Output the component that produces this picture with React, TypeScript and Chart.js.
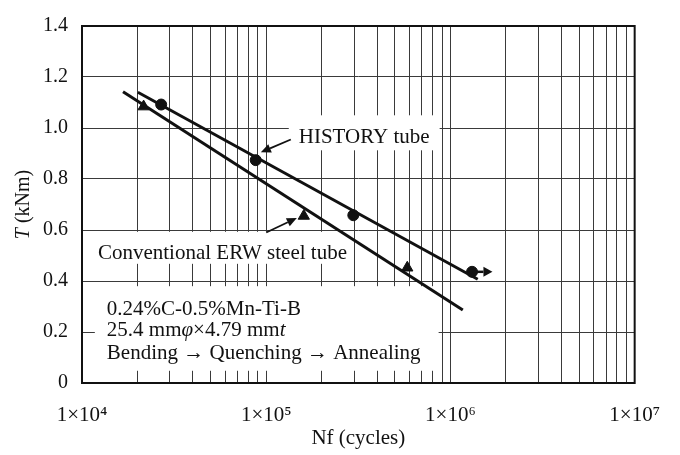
import React, { useEffect, useRef } from 'react';
import { Chart, registerables } from 'chart.js';

Chart.register(...registerables);

// ---- data ----
const historyCycles = [26900, 87700, 297000, 1310000];
const historyTorque = [1.092, 0.874, 0.658, 0.436];
const conventionalCycles = [21600, 160000, 583000];
const conventionalTorque = [1.084, 0.655, 0.452];
const historyFitCycles = [20100, 1406000];
const historyFitTorque = [1.14, 0.407];
const conventionalFitCycles = [16700, 1167000];
const conventionalFitTorque = [1.142, 0.286];
const runoutTipCycles = [1690000];
const yTickValues = [0, 0.2, 0.4, 0.6, 0.8, 1.0, 1.2, 1.4];
const xDecades = [4, 5, 6, 7];
const xTickLabels = ['1×10⁴', '1×10⁵', '1×10⁶', '1×10⁷'];

const FONT = "'Liberation Serif', 'Times New Roman', serif";

type Seg = { t: string; italic?: boolean };

const labelHistory: Seg[] = [{ t: 'HISTORY tube' }];
const labelConventional: Seg[] = [{ t: 'Conventional ERW steel tube' }];
const blockLines: Seg[][] = [
  [{ t: '0.24%C-0.5%Mn-Ti-B' }],
  [{ t: '25.4 mm' }, { t: 'φ', italic: true }, { t: '×4.79 mm' }, { t: 't', italic: true }],
  [{ t: 'Bending → Quenching → Annealing' }],
];

// annotation anchors in data coordinates (cycles, torque)
const historyLabelAt = { x: 150200, y: 0.94 };
const conventionalLabelAt = { x: 12200, y: 0.487 };
const blockAt = { x: 13640, y: [0.266, 0.183, 0.095] };
const historyPointer = { from: { x: 136000, y: 0.955 }, to: { x: 93500, y: 0.905 } };
const conventionalPointer = { from: { x: 100000, y: 0.59 }, to: { x: 146600, y: 0.647 } };

function fontStr(size: number, italic?: boolean) {
  return `${italic ? 'italic ' : ''}${size}px ${FONT}`;
}

function segWidth(ctx: CanvasRenderingContext2D, segs: Seg[], size: number) {
  let w = 0;
  for (const s of segs) {
    ctx.font = fontStr(size, s.italic);
    w += ctx.measureText(s.t).width;
  }
  return w;
}

function drawSegs(ctx: CanvasRenderingContext2D, segs: Seg[], x: number, y: number, size: number) {
  let cx = x;
  ctx.textBaseline = 'alphabetic';
  ctx.textAlign = 'left';
  ctx.fillStyle = '#111';
  for (const s of segs) {
    ctx.font = fontStr(size, s.italic);
    ctx.fillText(s.t, cx, y);
    cx += ctx.measureText(s.t).width;
  }
}

function drawArrow(ctx: CanvasRenderingContext2D, x1: number, y1: number, x2: number, y2: number, lw: number, head: number, half: number) {
  const a = Math.atan2(y2 - y1, x2 - x1);
  const bx = x2 - Math.cos(a) * head;
  const by = y2 - Math.sin(a) * head;
  ctx.strokeStyle = '#111';
  ctx.fillStyle = '#111';
  ctx.lineWidth = lw;
  ctx.beginPath();
  ctx.moveTo(x1, y1);
  ctx.lineTo(bx, by);
  ctx.stroke();
  ctx.beginPath();
  ctx.moveTo(x2, y2);
  ctx.lineTo(bx + Math.sin(a) * half, by - Math.cos(a) * half);
  ctx.lineTo(bx - Math.sin(a) * half, by + Math.cos(a) * half);
  ctx.closePath();
  ctx.fill();
}

const TEXT_SIZE = 21;

const annotationPlugin = {
  id: 'annotations',
  beforeDatasetsDraw(chart: any) {
    const { ctx, scales } = chart;
    const xs = scales.x;
    const ys = scales.y;
    ctx.save();
    ctx.fillStyle = '#fff';
    // HISTORY box
    let lx = xs.getPixelForValue(historyLabelAt.x);
    let ly = ys.getPixelForValue(historyLabelAt.y);
    let w = segWidth(ctx, labelHistory, TEXT_SIZE);
    ctx.fillRect(lx - 10, ly - 28, w + 20, 35);
    // Conventional box
    lx = xs.getPixelForValue(conventionalLabelAt.x);
    ly = ys.getPixelForValue(conventionalLabelAt.y);
    w = segWidth(ctx, labelConventional, TEXT_SIZE);
    ctx.fillRect(lx - 8, ly - 27, w + 14, 32);
    // block box
    lx = xs.getPixelForValue(blockAt.x);
    const y0 = ys.getPixelForValue(blockAt.y[0]);
    const y2 = ys.getPixelForValue(blockAt.y[blockAt.y.length - 1]);
    let mw = 0;
    blockLines.forEach((l) => (mw = Math.max(mw, segWidth(ctx, l, TEXT_SIZE))));
    ctx.fillRect(lx - 12, y0 - 29, mw + 30, y2 - y0 + 41);
    ctx.restore();
  },
  afterDatasetsDraw(chart: any) {
    const { ctx, scales } = chart;
    const xs = scales.x;
    const ys = scales.y;
    ctx.save();
    drawSegs(ctx, labelHistory, xs.getPixelForValue(historyLabelAt.x), ys.getPixelForValue(historyLabelAt.y), TEXT_SIZE);
    drawSegs(ctx, labelConventional, xs.getPixelForValue(conventionalLabelAt.x), ys.getPixelForValue(conventionalLabelAt.y), TEXT_SIZE);
    blockLines.forEach((l, i) => {
      drawSegs(ctx, l, xs.getPixelForValue(blockAt.x), ys.getPixelForValue(blockAt.y[i]), TEXT_SIZE);
    });
    for (const p of [historyPointer, conventionalPointer]) {
      drawArrow(ctx, xs.getPixelForValue(p.from.x), ys.getPixelForValue(p.from.y), xs.getPixelForValue(p.to.x), ys.getPixelForValue(p.to.y), 1.8, 10, 4.5);
    }
    // run-out arrow on last HISTORY specimen
    const li = historyCycles.length - 1;
    const rx = xs.getPixelForValue(historyCycles[li]);
    const ry = ys.getPixelForValue(historyTorque[li]);
    drawArrow(ctx, rx, ry, xs.getPixelForValue(runoutTipCycles[0]), ry, 2.5, 9, 5);
    ctx.restore();
  },
  afterDraw(chart: any) {
    const { ctx, chartArea } = chart;
    ctx.save();
    ctx.strokeStyle = '#111';
    ctx.lineWidth = 2;
    ctx.strokeRect(chartArea.left, chartArea.top, chartArea.right - chartArea.left, chartArea.bottom - chartArea.top);
    // y-axis title with italic T
    const segs: Seg[] = [{ t: 'T', italic: true }, { t: ' (kNm)' }];
    const size = 20;
    const w = segWidth(ctx, segs, size);
    ctx.translate(29, (chartArea.top + chartArea.bottom) / 2);
    ctx.rotate(-Math.PI / 2);
    drawSegs(ctx, segs, -w / 2, 0, size);
    ctx.restore();
  },
};

export default function App() {
  const ref = useRef<HTMLCanvasElement | null>(null);
  useEffect(() => {
    document.body.style.margin = '0';
    const canvas = ref.current;
    if (!canvas) return;
    const toPts = (xs: number[], ys: number[]) => xs.map((x, i) => ({ x, y: ys[i] }));
    const xTickValues: number[] = [];
    for (let e = xDecades[0]; e < xDecades[xDecades.length - 1]; e++) {
      for (let s = 1; s <= 9; s++) xTickValues.push(s * Math.pow(10, e));
    }
    xTickValues.push(Math.pow(10, xDecades[xDecades.length - 1]));

    const chart = new Chart(canvas, {
      type: 'scatter',
      data: {
        datasets: [
          {
            type: 'line',
            label: 'HISTORY fit',
            data: toPts(historyFitCycles, historyFitTorque),
            borderColor: '#111',
            borderWidth: 3,
            pointRadius: 0,
            fill: false,
          },
          {
            type: 'line',
            label: 'Conventional fit',
            data: toPts(conventionalFitCycles, conventionalFitTorque),
            borderColor: '#111',
            borderWidth: 3,
            pointRadius: 0,
            fill: false,
          },
          {
            label: 'HISTORY tube',
            data: toPts(historyCycles, historyTorque),
            pointStyle: 'circle',
            pointRadius: 5.5,
            backgroundColor: '#111',
            borderColor: '#111',
          },
          {
            label: 'Conventional ERW steel tube',
            data: toPts(conventionalCycles, conventionalTorque),
            pointStyle: 'triangle',
            pointRadius: 6.5,
            backgroundColor: '#111',
            borderColor: '#111',
          },
        ],
      } as any,
      options: {
        animation: false,
        responsive: false,
        devicePixelRatio: 1,
        layout: { padding: { left: 0, right: 42, top: 15, bottom: 0 } },
        plugins: { legend: { display: false }, tooltip: { enabled: false } },
        scales: {
          x: {
            type: 'logarithmic',
            min: 1e4,
            max: 1e7,
            afterBuildTicks: (scale: any) => {
              scale.ticks = xTickValues.map((v) => ({ value: v }));
            },
            afterFit: (scale: any) => {
              scale.height = 72;
            },
            grid: { color: '#3a3a3a', lineWidth: 1, drawTicks: false },
            border: { display: false },
            ticks: {
              autoSkip: false,
              maxRotation: 0,
              padding: 20,
              color: '#111',
              font: { family: FONT, size: 21 },
              callback: (value: any) => {
                const l = Math.log10(Number(value));
                const r = Math.round(l);
                if (Math.abs(l - r) < 1e-9) {
                  const i = xDecades.indexOf(r);
                  return i >= 0 ? xTickLabels[i] : '';
                }
                return '';
              },
            },
            title: {
              display: true,
              text: 'Nf (cycles)',
              color: '#111',
              font: { family: FONT, size: 21 },
              padding: { top: 0, bottom: 4 },
            },
          },
          y: {
            type: 'linear',
            min: yTickValues[0],
            max: yTickValues[yTickValues.length - 1],
            afterBuildTicks: (scale: any) => {
              scale.ticks = yTickValues.map((v) => ({ value: v }));
            },
            afterFit: (scale: any) => {
              scale.width = 82;
            },
            grid: { color: '#3a3a3a', lineWidth: 1, drawTicks: false },
            border: { display: false },
            ticks: {
              padding: 14,
              color: '#111',
              font: { family: FONT, size: 20 },
              callback: (value: any) => (Number(value) === 0 ? '0' : Number(value).toFixed(1)),
            },
          },
        },
      } as any,
      plugins: [annotationPlugin],
    });
    return () => chart.destroy();
  }, []);
  return (
    <div style={{ width: 680, height: 455, background: '#fff' }}>
      <canvas ref={ref} width={680} height={455} />
    </div>
  );
}
